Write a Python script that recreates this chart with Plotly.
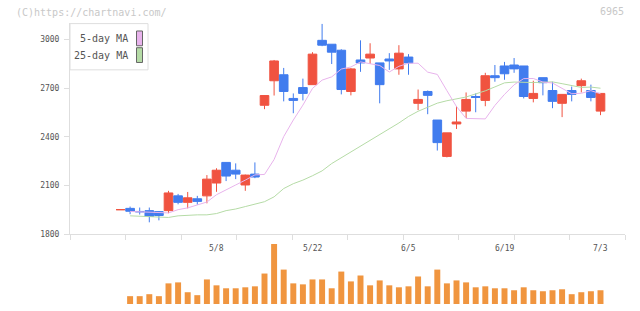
import plotly.graph_objects as go

# ---- data ----
dates = ["4/19", "4/22", "4/23", "4/24", "4/25", "4/26", "4/30", "5/1", "5/2", "5/7",
         "5/8", "5/9", "5/10", "5/13", "5/14", "5/15", "5/16", "5/17", "5/20", "5/21",
         "5/22", "5/23", "5/24", "5/27", "5/28", "5/29", "5/30", "5/31", "6/3", "6/4",
         "6/5", "6/6", "6/7", "6/10", "6/11", "6/12", "6/13", "6/14", "6/17", "6/18",
         "6/19", "6/20", "6/21", "6/24", "6/25", "6/26", "6/27", "6/28", "7/1", "7/2",
         "7/3"]

opens = [1951, 1959, 1940, 1945, 1939, 1945, 2036, 1996, 2018, 2036,
         2115, 2242, 2194, 2103, 2170, 2594, 2745, 2782, 2636, 2703,
         2721, 2994, 2970, 2933, 2679, 2873, 2885, 2855, 2879, 2818,
         2891, 2606, 2679, 2503, 2279, 2479, 2558, 2648, 2624, 2776,
         2836, 2842, 2836, 2636, 2764, 2685, 2606, 2685, 2715, 2685,
         2558]
highs = [1951, 1970, 1964, 1964, 1942, 2067, 2048, 2060, 2036, 2164,
         2206, 2242, 2236, 2167, 2242, 2656, 2873, 2824, 2667, 2758,
         2921, 3095, 2970, 2939, 2824, 2994, 2976, 2855, 2915, 2964,
         2909, 2691, 2685, 2503, 2424, 2588, 2673, 2667, 2794, 2842,
         2861, 2885, 2836, 2745, 2764, 2739, 2661, 2709, 2758, 2721,
         2667]
lows = [1951, 1923, 1921, 1873, 1885, 1929, 1984, 1959, 1982, 1990,
        2061, 2127, 2139, 2067, 2145, 2570, 2654, 2618, 2545, 2624,
        2721, 2958, 2848, 2661, 2655, 2800, 2848, 2606, 2812, 2782,
        2782, 2564, 2539, 2315, 2273, 2448, 2515, 2551, 2588, 2739,
        2751, 2794, 2636, 2612, 2655, 2576, 2521, 2618, 2673, 2618,
        2533]
closes = [1951, 1941, 1938, 1909, 1915, 2054, 1996, 2024, 2002, 2139,
          2194, 2158, 2170, 2164, 2152, 2654, 2867, 2679, 2624, 2667,
          2909, 2964, 2921, 2691, 2818, 2855, 2909, 2721, 2867, 2915,
          2855, 2630, 2655, 2364, 2424, 2491, 2630, 2642, 2776, 2764,
          2788, 2818, 2648, 2667, 2733, 2618, 2661, 2661, 2745, 2642,
          2667]
volumes = [0, 8, 8, 10, 8, 21, 22, 12, 9, 25,
           19, 16, 16, 17, 18, 31, 61, 35, 21, 20,
           25, 25, 16, 33, 23, 29, 19, 24, 19, 17,
           18, 28, 18, 35, 21, 24, 22, 17, 18, 16,
           16, 14, 17, 14, 13, 14, 15, 10, 12, 13,
           14]
ma5 = [None, 1940, 1938, 1934, 1932, 1931, 1951, 1962, 1980, 1998,
       2043, 2071, 2103, 2133, 2165, 2168, 2260, 2401, 2503, 2595,
       2698, 2749, 2769, 2817, 2830, 2861, 2850, 2839, 2799, 2834,
       2853, 2853, 2798, 2784, 2684, 2586, 2513, 2513, 2510, 2593,
       2661, 2720, 2758, 2759, 2737, 2731, 2697, 2665, 2668, 2684,
       2665]
ma25 = [None, 1913, 1911, 1905, 1903, 1903, 1913, 1917, 1919, 1919,
        1927, 1945, 1955, 1970, 1984, 2000, 2030, 2081, 2111, 2133,
        2160, 2190, 2235, 2270, 2305, 2340, 2376, 2415, 2446, 2485,
        2525, 2557, 2582, 2607, 2622, 2633, 2645, 2664, 2683, 2707,
        2732, 2737, 2735, 2734, 2736, 2738, 2727, 2714, 2704, 2706,
        2699]
date_labels = ["5/8", "5/22", "6/5", "6/19", "7/3"]
y_ticks = [1800, 2100, 2400, 2700, 3000]

# ---- layout helpers (pixel -> paper) ----
W, H = 640, 311
def px(x):
    return x / W
def py(y):
    return (H - y) / H

idx = list(range(len(dates)))
X0, DX = 120.5, 9.6               # pixel centre of first candle, candle spacing
PL, PR = 70, 625                  # plot area left/right
xr = [(PL - X0) / DX, (PR - X0) / DX]
tickpos = [xr[0] + k * (xr[1] - xr[0]) / 10 for k in range(11)]

TOP, BOT = 23, 238
yr = [1800, 1800 + (BOT - TOP) * 1200 / 198]

RED = "#f05340"
BLUE = "#417cee"
ORANGE = "#f0953f"
PINK = "#e8b3ec"
GREEN = "#b5dba6"
AX = "#dedede"
TXT = "#555555"
FONT = "DejaVu Sans Mono"

fig = go.Figure()

fig.add_trace(go.Scatter(x=idx, y=ma25, mode="lines", line=dict(color=GREEN, width=1),
                         name="25-day MA", showlegend=False, hoverinfo="skip"))
fig.add_trace(go.Scatter(x=idx, y=ma5, mode="lines", line=dict(color=PINK, width=1),
                         name="5-day MA", showlegend=False, hoverinfo="skip"))
fig.add_trace(go.Candlestick(
    x=idx, open=opens, high=highs, low=lows, close=closes,
    increasing=dict(fillcolor=RED, line=dict(color=RED, width=1)),
    decreasing=dict(fillcolor=BLUE, line=dict(color=BLUE, width=1)),
    whiskerwidth=0, showlegend=False, name="6965"))
fig.add_trace(go.Bar(x=idx, y=volumes, marker=dict(color=ORANGE, line=dict(width=0)),
                     width=0.62, xaxis="x2", yaxis="y2", showlegend=False))

vmax = max(volumes)
fig.update_layout(
    width=W, height=H,
    margin=dict(l=0, r=0, t=0, b=0),
    paper_bgcolor="white", plot_bgcolor="white",
    boxgap=0.1, boxgroupgap=0,
    showlegend=False,
    xaxis=dict(domain=[px(PL), px(PR)], range=xr, anchor="y",
               rangeslider=dict(visible=False),
               showgrid=False, zeroline=False,
               showline=True, linecolor=AX, linewidth=1,
               tickmode="array", tickvals=tickpos, ticks="outside", ticklen=5,
               tickcolor=AX, tickwidth=1, showticklabels=False),
    yaxis=dict(domain=[py(BOT), py(TOP)], range=yr, anchor="x",
               showgrid=False, zeroline=False,
               showline=True, linecolor=AX, linewidth=1,
               tickmode="array", tickvals=y_ticks, ticks="outside", ticklen=5,
               tickcolor=AX, tickwidth=1, ticklabelstandoff=3,
               tickfont=dict(family=FONT, size=8, color=TXT)),
    xaxis2=dict(domain=[px(PL), px(PR)], range=xr, anchor="y2",
                showgrid=False, zeroline=False, showline=False,
                showticklabels=False, ticks=""),
    yaxis2=dict(domain=[py(309), py(246)], range=[0, vmax * 63 / 61], anchor="x2",
                showgrid=False, zeroline=False, showline=False,
                showticklabels=False, ticks=""),
)

ann = []
# date labels over the volume panel
for lab in date_labels:
    ann.append(dict(x=dates.index(lab), y=py(252.5), xref="x", yref="paper",
                    text=lab, showarrow=False, xanchor="center", yanchor="middle",
                    font=dict(family=FONT, size=8, color=TXT)))
# watermark and code
ann.append(dict(x=px(14), y=py(12.5), xref="paper", yref="paper",
                text="(C)https://chartnavi.com/", showarrow=False,
                xanchor="left", yanchor="middle",
                font=dict(family=FONT, size=10, color="#c8c8c8")))
ann.append(dict(x=px(626), y=py(12), xref="paper", yref="paper",
                text="6965", showarrow=False, xanchor="right", yanchor="middle",
                font=dict(family=FONT, size=10, color="#c8c8c8")))
# legend texts
ann.append(dict(x=px(130), y=py(39.5), xref="paper", yref="paper",
                text="5-day MA", showarrow=False, xanchor="right", yanchor="middle",
                font=dict(family=FONT, size=10, color=TXT)))
ann.append(dict(x=px(130), y=py(56), xref="paper", yref="paper",
                text="25-day MA", showarrow=False, xanchor="right", yanchor="middle",
                font=dict(family=FONT, size=10, color=TXT)))
fig.update_layout(annotations=ann)

shapes = [
    dict(type="rect", xref="paper", yref="paper", x0=px(70), x1=px(148), y0=py(71), y1=py(24),
         line=dict(color=AX, width=1), fillcolor="white", layer="above"),
    dict(type="rect", xref="paper", yref="paper", x0=px(136.5), x1=px(142.5), y0=py(46.5), y1=py(31.5),
         line=dict(color="#666666", width=1), fillcolor=PINK, layer="above"),
    dict(type="rect", xref="paper", yref="paper", x0=px(136.5), x1=px(142.5), y0=py(63.5), y1=py(48.5),
         line=dict(color="#666666", width=1), fillcolor=GREEN, layer="above"),
]
fig.update_layout(shapes=shapes)

fig.write_html("out.html")
